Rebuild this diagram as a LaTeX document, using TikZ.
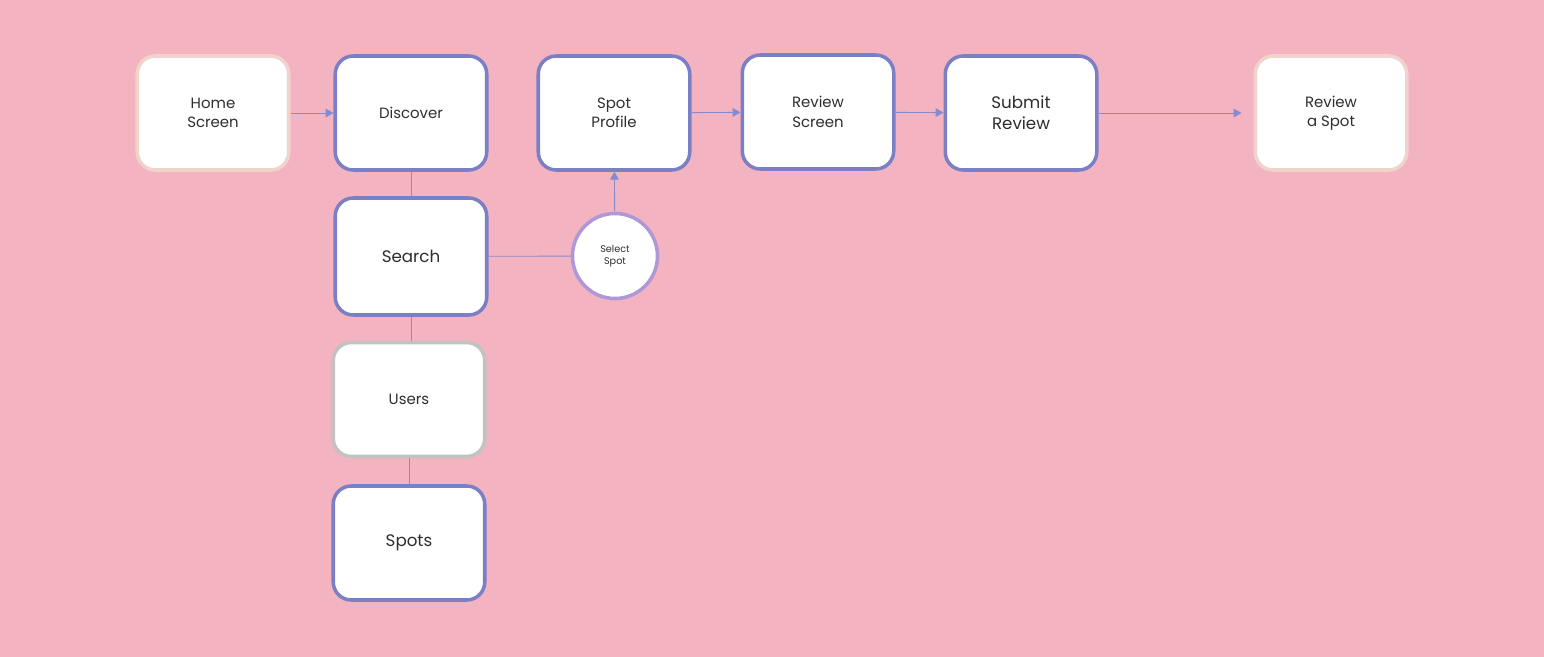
\documentclass[tikz,border=0pt]{standalone}
\usepackage{fontspec}
\setmainfont{Poppins}
\usetikzlibrary{arrows.meta}
\definecolor{fond}{HTML}{F4B3C1}
\definecolor{violet}{HTML}{7B7FC6}
\definecolor{trait}{HTML}{868BCF}
\definecolor{lilas}{HTML}{AE98D8}
\definecolor{peche}{HTML}{F0D3CB}
\definecolor{gris}{HTML}{C2C2C2}
\definecolor{texte}{HTML}{2E2E2E}
\begin{document}
\begin{tikzpicture}[font=\fontsize{8.5}{11}\selectfont, text=texte]
\tikzstyle{ecran}=[draw=violet, fill=white, line width=2pt, rounded corners=0.36cm,
  minimum width=3.03cm, minimum height=2.28cm, align=center] % les boites
\tikzstyle{bout}=[ecran, draw=peche] % debut et fin
\tikzstyle{lien}=[draw=trait, line width=0.5pt]
\tikzstyle{fleche}=[lien, -{Triangle[length=4.5pt,width=5pt]}]
\fill[fond] (0,0) rectangle (30.88,-13.14);
\useasboundingbox (0,0) rectangle (30.88,-13.14);
% ligne du haut
\node[bout] (home) at (4.26,-2.26) {Home\\Screen};
\node[ecran] (discover) at (8.22,-2.26) {Discover};
\node[ecran] (profile) at (12.28,-2.26) {Spot\\Profile};
\node[ecran] (revscreen) at (16.36,-2.24) {Review\\Screen};
\node[ecran, font=\fontsize{9.5}{12}\selectfont] (submit) at (20.42,-2.26) {Submit\\Review};
\node[bout] (revspot) at (26.62,-2.26) {Review\\a Spot};
% colonne
\node[ecran, minimum height=2.34cm, font=\fontsize{9.5}{12}\selectfont] (search) at (8.22,-5.13) {Search};
\node[ecran, draw=gris] (users) at (8.18,-7.99) {Users};
\node[ecran, font=\fontsize{9.5}{12}\selectfont] (spots) at (8.18,-10.86) {Spots};
\node[circle, draw=lilas, fill=white, line width=2pt, minimum size=1.70cm,
  align=center, font=\fontsize{5.5}{6.5}\selectfont] (select) at (12.30,-5.12) {Select\\Spot};
% liens
\draw[fleche] (home) -- (discover);
\draw[lien] (discover) -- (search);
\draw[lien] (search.south) -- (search.south |- users.north);
\draw[lien] (users) -- (spots);
\draw[lien] (search) -- (select);
\draw[fleche] (select) -- (profile);
\draw[fleche] (profile) -- (revscreen);
\draw[fleche] (revscreen) -- (submit);
\draw[fleche, shorten >=0.24cm] (submit) -- (revspot);
\end{tikzpicture}
\end{document}
